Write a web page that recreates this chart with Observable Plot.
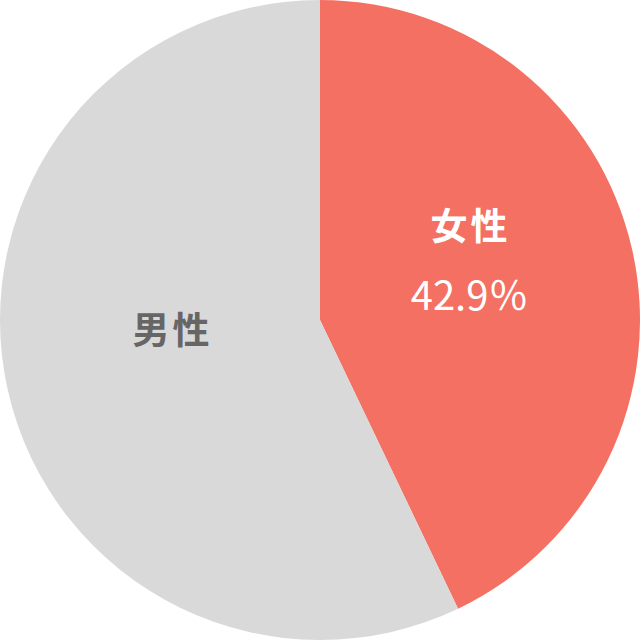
<!DOCTYPE html>
<html><head><meta charset="utf-8">
<script src="https://cdn.jsdelivr.net/npm/d3@7"></script>
<script src="https://cdn.jsdelivr.net/npm/@observablehq/plot@0.6"></script>
<style>body{margin:0;background:#fff}#chart{width:640px;height:640px}</style>
</head><body><div id="chart"></div>
<script>
const categories = ["女性", "男性"];
const values = [42.9, 57.1];
const colors = ["#f47063", "#d9d9d9"];
const labelColors = ["#ffffff", "#666666"];
const percentLabels = ["42.9％", ""];

const pie = d3.pie().sort(null).value(d => d.value);
const arcs = pie(categories.map((c, i) => ({name: c, value: values[i], color: colors[i], tc: labelColors[i], pct: percentLabels[i]})));
const labelArc = d3.arc().innerRadius(0).outerRadius(1);
const labels = arcs.map(a => {
  const [cx, cy] = labelArc.centroid(a);
  return {name: a.data.name, pct: a.data.pct, tc: a.data.tc, x: cx, y: -cy};
});

const pieMark = (index, scales, values, dims) => {
  const cx = scales.x(0), cy = scales.y(0);
  const r = scales.x(1) - scales.x(0);
  const arc = d3.arc().innerRadius(0).outerRadius(r);
  const g = d3.create("svg:g").attr("transform", `translate(${cx},${cy})`);
  g.selectAll("path").data(arcs).join("path")
    .attr("d", arc).attr("fill", d => d.data.color);
  return g.node();
};

const font = "'Noto Sans CJK JP', sans-serif";
const plot = Plot.plot({
  width: 640, height: 640, margin: 0,
  x: {domain: [-1, 1], axis: null},
  y: {domain: [-1, 1], axis: null},
  style: {fontFamily: font, background: "transparent"},
  marks: [
    pieMark,
    Plot.text(labels.filter(d => d.pct), {x: "x", y: "y", text: "name", fill: "tc", fontSize: 37, fontWeight: "bold", fontFamily: font, dx: -6, dy: -57, className: "kl"}),
    Plot.text(labels.filter(d => d.pct), {x: "x", y: "y", text: "pct", fill: "tc", fontSize: 40, fontFamily: font, dx: -7, dy: 12}),
    Plot.text(labels.filter(d => !d.pct), {x: "x", y: "y", text: "name", fill: "tc", fontSize: 37, fontWeight: "bold", fontFamily: font, dx: 8, dy: -24, className: "kl"})
  ]
});
plot.querySelectorAll(".kl text").forEach(t => t.style.letterSpacing = "0.08em");
document.getElementById("chart").appendChild(plot);
</script></body></html>
